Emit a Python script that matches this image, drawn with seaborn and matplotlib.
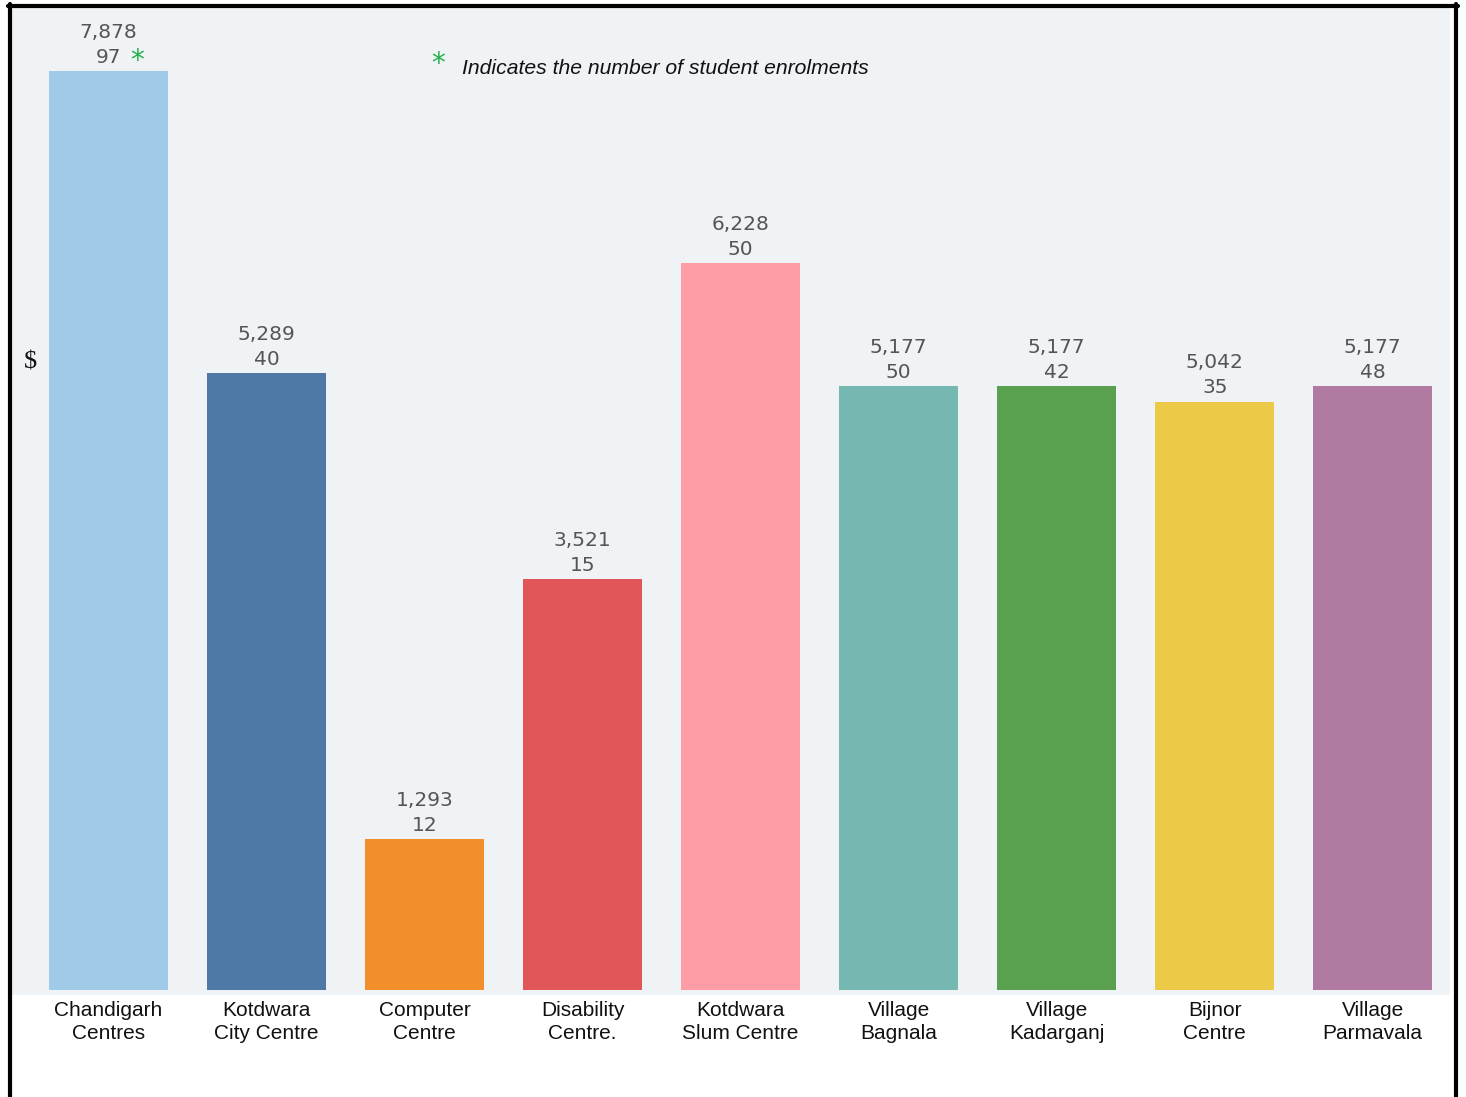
import matplotlib.pyplot as plt
import seaborn as sns
import pandas as pd
from matplotlib.lines import Line2D

centres = [
    'Chandigarh\nCentres',
    'Kotdwara\nCity Centre',
    'Computer\nCentre',
    'Disability\nCentre.',
    'Kotdwara\nSlum Centre',
    'Village\nBagnala',
    'Village\nKadarganj',
    'Bijnor\nCentre',
    'Village\nParmavala',
]
amounts = [7878, 5289, 1293, 3521, 6228, 5177, 5177, 5042, 5177]
enrolments = [97, 40, 12, 15, 50, 50, 42, 35, 48]
colours = ['#a0cbe8', '#4e79a7', '#f28e2b', '#e15759', '#ff9da7',
           '#76b7b2', '#59a14f', '#edc948', '#b07aa1']

df = pd.DataFrame({'centre': centres, 'amount': amounts})

sns.set_style('white')
plt.rcParams['font.family'] = ['Liberation Sans', 'DejaVu Sans']

fig = plt.figure(figsize=(14.66, 10.97), dpi=100)
ax = fig.add_axes([0.0082, 0.093, 0.981, 0.8997])
ax.set_facecolor('#eff3f5')

sns.barplot(
    data=df,
    x='centre',
    y='amount',
    hue='centre',
    palette=colours,
    saturation=1,
    width=0.75,
    linewidth=0,
    legend=False,
    ax=ax
)

ax.set_xlim(-0.61, 8.49)
ax.set_ylim(-43, 8418)
ax.set_yticks([])
ax.set_xlabel('')
ax.set_ylabel('')
for s in ax.spines.values():
    s.set_visible(False)

ax.tick_params(axis='x', length=0, pad=4, labelsize=15, labelcolor='#111111')
for lbl in ax.get_xticklabels():
    lbl.set_linespacing(1.3)

for i, (a, n) in enumerate(zip(amounts, enrolments)):
    ax.annotate(f'{a:,}', (i, a), xytext=(0, 28), textcoords='offset points',
                ha='center', va='center', fontsize=14.5, color='#555555',
                family='DejaVu Sans')
    ax.annotate(f'{n}', (i, a), xytext=(0, 10), textcoords='offset points',
                ha='center', va='center', fontsize=14.5, color='#555555',
                family='DejaVu Sans')

# green asterisk next to first enrolment number
ax.annotate('*', (0, amounts[0]), xytext=(21, 7), textcoords='offset points',
            ha='center', va='center', fontsize=20, color='#22b04b',
            family='DejaVu Sans')

fig.text(438 / 1466, 1 - 64 / 1097, '*', fontsize=20, color='#22b04b',
         ha='center', va='center', family='DejaVu Sans')
fig.text(462 / 1466, 1 - 68 / 1097, 'Indicates the number of student enrolments',
         fontsize=15.2, style='italic', color='#111111', ha='left', va='center')

fig.text(30 / 1466, 1 - 363 / 1097, '$', fontsize=19, family='Liberation Serif',
         ha='center', va='center', color='#111111')

# black frame
lw = 3
fig.add_artist(Line2D([10 / 1466, 10 / 1466], [0, 1 - 4 / 1097], color='black', lw=lw))
fig.add_artist(Line2D([1456 / 1466, 1456 / 1466], [0, 1 - 4 / 1097], color='black', lw=lw))
fig.add_artist(Line2D([8 / 1466, 1458 / 1466], [1 - 6 / 1097, 1 - 6 / 1097], color='black', lw=lw))

fig.savefig('out.png', dpi=100)
plt.close()
